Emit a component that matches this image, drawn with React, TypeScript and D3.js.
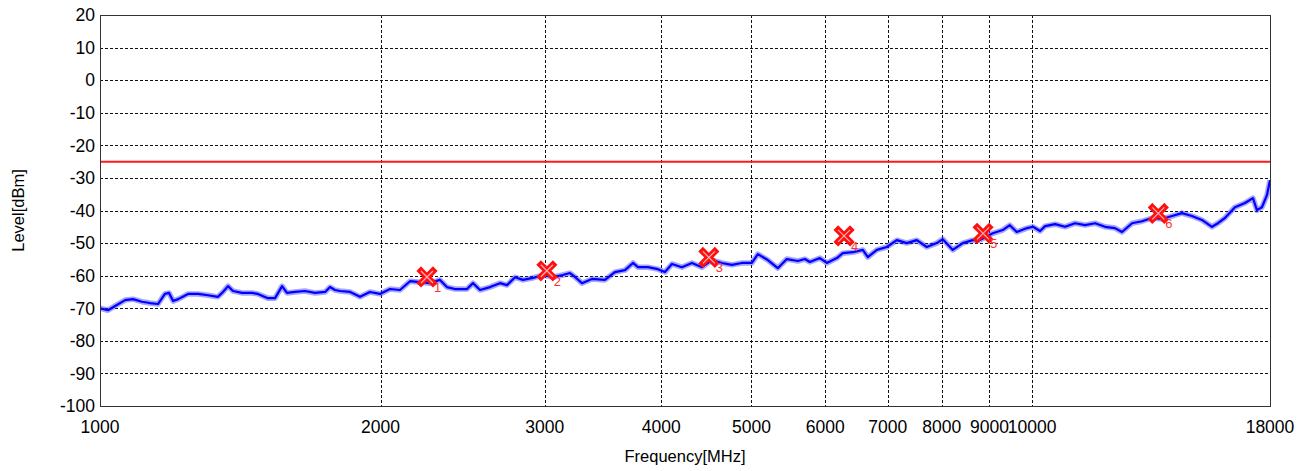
import React from "react";
import * as d3 from "d3";

const freqMHz = [
  1000, 1020, 1038, 1064, 1085, 1109, 1131, 1154, 1174, 1186, 1198, 1213, 1243, 1274, 1306, 1338, 1355, 1372, 1389,
  1420, 1456, 1477, 1514, 1541, 1568, 1587, 1619, 1659, 1701, 1744, 1765, 1787, 1809, 1855, 1901, 1948, 1997, 2047,
  2098, 2151, 2204, 2260, 2316, 2356, 2403, 2476, 2513, 2557, 2621, 2686, 2733, 2788, 2843, 2914, 2987, 3062, 3138,
  3193, 3233, 3289, 3371, 3481, 3568, 3658, 3731, 3777, 3871, 3968, 4037, 4108, 4210, 4316, 4424, 4534, 4647, 4763,
  4883, 5005, 5079, 5206, 5336, 5456, 5607, 5705, 5775, 5920, 6023, 6174, 6266, 6423, 6583, 6665, 6815, 6985, 7160,
  7339, 7522, 7710, 7903, 8021, 8221, 8427, 8637, 8788, 9075, 9301, 9464, 9629, 9877, 10025, 10200, 10327, 10585,
  10849, 11121, 11399, 11683, 11975, 12274, 12489, 12801, 13121, 13449, 13785, 14129, 14482, 14844, 15215, 15595,
  15828, 16104, 16507, 16919, 17257, 17428, 17645, 17865, 18000,
];

const levelDbm = [
  -70, -70.6, -69.3, -67.5, -67.2, -68, -68.4, -68.7, -65.6, -65.3, -67.8, -67.2, -65.6, -65.6, -66, -66.5, -65, -63.2,
  -64.7, -65.3, -65.3, -65.6, -66.9, -66.9, -63.2, -65.3, -65, -64.7, -65.3, -65, -63.5, -64.4, -64.7, -65, -66.5, -65,
  -65.6, -64.1, -64.4, -61.7, -62, -62.3, -61.3, -63.5, -64.1, -64.1, -62.3, -64.4, -63.5, -62.3, -62.9, -60.5, -61.3,
  -60.7, -59.8, -60.4, -59.8, -59.2, -60.4, -62.3, -61, -61.3, -58.9, -58.3, -56.1, -57.4, -57.4, -58, -58.9, -56.4,
  -57.4, -56.1, -57.4, -55.2, -56.1, -56.7, -56.1, -56.1, -53.4, -55.2, -57.7, -54.9, -55.5, -54.9, -55.8, -54.6,
  -56.1, -54.6, -53.1, -52.8, -52.1, -54.3, -52.1, -51.2, -49.1, -50, -49.1, -51.2, -50, -48.8, -52.1, -50, -49.1,
  -49.1, -47, -46, -44.5, -46.6, -45.4, -45, -46.3, -44.8, -44.2, -45, -43.9, -44.5, -43.9, -45, -45.4, -46.6, -43.9,
  -43.3, -42.3, -42.6, -41.7, -40.8, -41.7, -42.9, -45, -43.9, -42.3, -39, -37.7, -36.2, -39.9, -39, -35.3, -30.7,
];

const limitDbm = -25;

const markerFreq = [2243, 3016, 4500, 6285, 8860, 13660];
const markerLevel = [-60.4, -58.5, -54.4, -47.8, -47.0, -40.9];
const markerLabel = ["1", "2", "3", "4", "5", "6"];

const xTicks = [1000, 2000, 3000, 4000, 5000, 6000, 7000, 8000, 9000, 10000, 18000];
const xGrid = [2000, 3000, 4000, 5000, 6000, 7000, 8000, 9000, 10000];
const yTicks = [20, 10, 0, -10, -20, -30, -40, -50, -60, -70, -80, -90, -100];

const W = 1315;
const H = 471;
const M = { left: 100, right: 1270, top: 15, bottom: 406 };
const FONT = "'Liberation Sans', Arial, sans-serif";

export default function App() {
  const x = d3.scaleLog().domain([1000, 18000]).range([M.left, M.right]);
  const y = d3.scaleLinear().domain([-100, 20]).range([M.bottom, M.top]);

  const line = d3
    .line<number>()
    .x((_, i) => x(freqMHz[i]))
    .y((d) => y(d));
  const tracePath = line(levelDbm) || "";

  const s = 6;
  const xPath = `M${-s},${-s}L${s},${s}M${-s},${s}L${s},${-s}`;

  return (
    <svg
      width={W}
      height={H}
      style={{ position: "absolute", left: 0, top: 0, background: "#fff" }}
      fontFamily={FONT}
    >
      <defs>
        <clipPath id="plotClip">
          <rect x={M.left} y={M.top} width={M.right - M.left} height={M.bottom - M.top} />
        </clipPath>
      </defs>
      {/* grid */}
      {yTicks
        .filter((t) => t !== 20 && t !== -100)
        .map((t) => (
          <line
            key={"gy" + t}
            x1={M.left}
            x2={M.right}
            y1={Math.round(y(t)) + 0.5}
            y2={Math.round(y(t)) + 0.5}
            stroke="#111"
            strokeWidth={1}
            strokeDasharray="3,2"
          />
        ))}
      {xGrid.map((t) => (
        <line
          key={"gx" + t}
          x1={Math.round(x(t)) + 0.5}
          x2={Math.round(x(t)) + 0.5}
          y1={M.top}
          y2={M.bottom}
          stroke="#111"
          strokeWidth={1}
          strokeDasharray="3,2"
        />
      ))}
      {/* limit line */}
      <line x1={M.left} x2={M.right} y1={y(limitDbm)} y2={y(limitDbm)} stroke="#ff1a1a" strokeWidth={2} />
      {/* trace */}
      <g clipPath="url(#plotClip)">
        <path d={tracePath} fill="none" stroke="#3a3aff" strokeOpacity={0.45} strokeWidth={5.5} strokeLinejoin="round" />
        <path d={tracePath} fill="none" stroke="#0000ff" strokeWidth={2.2} strokeLinejoin="round" />
      </g>
      {/* markers */}
      {markerFreq.map((f, i) => {
        const cx = x(f);
        const cy = y(markerLevel[i]);
        return (
          <g key={"m" + i}>
            <g transform={`translate(${cx},${cy})`}>
              <path d={xPath} stroke="#ff1010" strokeWidth={6.5} strokeLinecap="square" fill="none" />
              <path d={xPath} stroke="#ffb0b0" strokeWidth={1.2} fill="none" />
            </g>
            <text x={cx + 7} y={cy + 15} fontSize={13} fill="#ff3030">
              {markerLabel[i]}
            </text>
          </g>
        );
      })}
      {/* frame */}
      <rect
        x={M.left + 0.5}
        y={M.top + 0.5}
        width={M.right - M.left}
        height={M.bottom - M.top}
        fill="none"
        stroke="#333"
        strokeWidth={1}
      />
      {/* y tick labels */}
      {yTicks.map((t) => (
        <text key={"yt" + t} x={95} y={y(t)} dy="0.36em" textAnchor="end" fontSize={17.5} fill="#000">
          {t}
        </text>
      ))}
      {/* x tick labels */}
      {xTicks.map((t) => (
        <text key={"xt" + t} x={x(t)} y={433} textAnchor="middle" fontSize={17.5} fill="#000">
          {t}
        </text>
      ))}
      <text x={685} y={462} textAnchor="middle" fontSize={16.5} fill="#000">
        Frequency[MHz]
      </text>
      <text
        transform={`translate(24,${(M.top + M.bottom) / 2}) rotate(-90)`}
        textAnchor="middle"
        fontSize={16.5}
        fill="#000"
      >
        Level[dBm]
      </text>
    </svg>
  );
}
